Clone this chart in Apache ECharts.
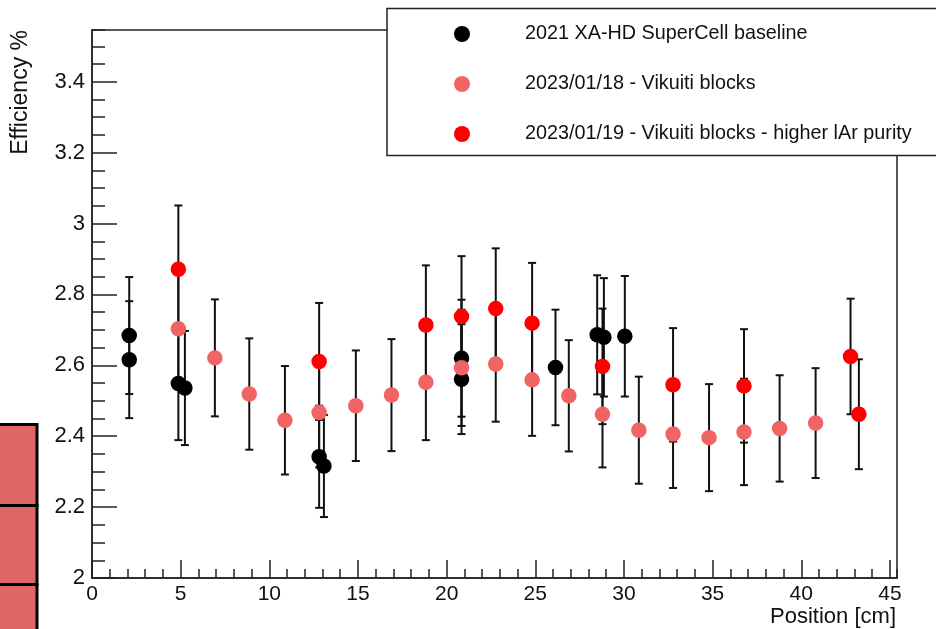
<!DOCTYPE html>
<html>
<head>
<meta charset="utf-8">
<script src="https://cdn.jsdelivr.net/npm/echarts@6/dist/echarts.min.js"></script>
<style>
  html, body { margin: 0; padding: 0; background: #fff; }
  #chart { width: 936px; height: 629px; }
</style>
</head>
<body>
<div id="chart"></div>
<script>
// ---- Data ----
const seriesNames = [
  '2021 XA-HD SuperCell baseline',
  '2023/01/18 - Vikuiti blocks',
  '2023/01/19 - Vikuiti blocks - higher lAr purity'
];
const legendLabels = [
  '2021 XA-HD SuperCell baseline',
  '2023/01/18 - Vikuiti blocks',
  '2023/01/19 - Vikuiti blocks - higher lAr purity'
];

const baselineX   = [2.1, 2.1, 4.87, 5.24, 12.81, 13.08, 20.84, 20.84, 26.14, 28.49, 28.87, 30.05];
const baselineY   = [2.684, 2.616, 2.549, 2.536, 2.342, 2.316, 2.620, 2.561, 2.594, 2.686, 2.679, 2.682];
const baselineErr = [0.165, 0.165, 0.160, 0.161, 0.144, 0.144, 0.165, 0.155, 0.163, 0.168, 0.167, 0.170];

const jan18X   = [4.87, 6.93, 8.87, 10.88, 12.81, 14.88, 16.89, 18.83, 20.84, 22.77, 24.82, 26.89, 28.79, 30.84, 32.77, 34.8, 36.77, 38.78, 40.81];
const jan18Y   = [2.703, 2.621, 2.519, 2.445, 2.467, 2.486, 2.516, 2.552, 2.593, 2.604, 2.559, 2.514, 2.462, 2.417, 2.406, 2.396, 2.412, 2.422, 2.437];
const jan18Err = [0.165, 0.165, 0.157, 0.153, 0.155, 0.156, 0.158, 0.163, 0.164, 0.163, 0.158, 0.157, 0.150, 0.151, 0.152, 0.151, 0.150, 0.150, 0.155];

const jan19X   = [4.87, 12.81, 18.83, 20.84, 22.77, 24.82, 28.79, 32.77, 36.77, 42.78, 43.25];
const jan19Y   = [2.871, 2.611, 2.714, 2.738, 2.760, 2.719, 2.597, 2.545, 2.542, 2.625, 2.462];
const jan19Err = [0.180, 0.165, 0.168, 0.170, 0.170, 0.170, 0.163, 0.160, 0.160, 0.163, 0.155];

const xTickLabels = ['0', '5', '10', '15', '20', '25', '30', '35', '40', '45'];
const yTickLabels = ['2', '2.2', '2.4', '2.6', '2.8', '3', '3.2', '3.4'];

const xAxisTitle = 'Position [cm]';
const yAxisTitle = 'Efficiency %';

// ---- Styling ----
const colors = ['#000000', '#f06464', '#ff0000'];
const FONT = '"Liberation Sans", Arial, Helvetica, sans-serif';
const X_MIN = 0, X_MAX = 45.4, Y_MIN = 2, Y_MAX = 3.546;

function zip(xs, ys, es) { return xs.map((x, i) => [x, ys[i], es[i]]); }
const datasets = [
  zip(baselineX, baselineY, baselineErr),
  zip(jan18X, jan18Y, jan18Err),
  zip(jan19X, jan19Y, jan19Err)
];

function errRender(params, api) {
  const x = api.value(0), y = api.value(1), e = api.value(2);
  const top = api.coord([x, y + e]);
  const bot = api.coord([x, y - e]);
  const cw = 4;
  const st = { stroke: '#111', lineWidth: 2 };
  return {
    type: 'group',
    children: [
      { type: 'line', shape: { x1: top[0], y1: top[1], x2: bot[0], y2: bot[1] }, style: st },
      { type: 'line', shape: { x1: top[0] - cw, y1: top[1], x2: top[0] + cw, y2: top[1] }, style: st },
      { type: 'line', shape: { x1: bot[0] - cw, y1: bot[1], x2: bot[0] + cw, y2: bot[1] }, style: st }
    ]
  };
}

const series = [];
datasets.forEach((d, i) => {
  series.push({
    type: 'custom',
    name: 'err' + i,
    renderItem: errRender,
    data: d,
    encode: { x: 0, y: 1 },
    silent: true,
    clip: false
  });
  series.push({
    type: 'scatter',
    name: seriesNames[i],
    data: d.map(p => [p[0], p[1]]),
    symbol: 'circle',
    symbolSize: 15.5,
    itemStyle: { color: colors[i], opacity: 1 }
  });
});

const chart = echarts.init(document.getElementById('chart'), null, { renderer: 'canvas' });
chart.setOption({
  animation: false,
  backgroundColor: '#ffffff',
  textStyle: { fontFamily: FONT },
  grid: {
    left: 92, right: 39, top: 30, bottom: 51,
    show: true, borderColor: '#222', borderWidth: 1.5, backgroundColor: 'transparent'
  },
  xAxis: [
    {
      type: 'value', min: X_MIN, max: X_MAX, interval: 5,
      axisLine: { show: true, lineStyle: { color: '#222', width: 1.5 } },
      axisTick: { show: true, inside: true, length: 18, lineStyle: { color: '#222', width: 1.5 } },
      axisLabel: {
        show: true, margin: 6, fontSize: 21, color: '#111', fontFamily: FONT,
        showMaxLabel: false,
        formatter: v => { const s = String(Math.round(v * 100) / 100); return xTickLabels.includes(s) ? s : ''; }
      },
      splitLine: { show: false }
    },
    {
      type: 'value', min: X_MIN, max: X_MAX, interval: 1, position: 'bottom',
      axisLine: { show: false },
      axisTick: { show: true, inside: true, length: 9, lineStyle: { color: '#222', width: 1.5 } },
      axisLabel: { show: false },
      splitLine: { show: false }
    }
  ],
  yAxis: [
    {
      type: 'value', min: Y_MIN, max: Y_MAX, interval: 0.2, position: 'left',
      axisLine: { show: true, lineStyle: { color: '#222', width: 1.5 } },
      axisTick: { show: true, inside: true, length: 25, lineStyle: { color: '#222', width: 1.5 } },
      axisLabel: {
        show: true, margin: 7, fontSize: 22, color: '#111', fontFamily: FONT,
        showMaxLabel: false,
        formatter: v => { const s = String(Math.round(v * 100) / 100); return yTickLabels.includes(s) ? s : ''; }
      },
      splitLine: { show: false }
    },
    {
      type: 'value', min: Y_MIN, max: Y_MAX, interval: 0.05, position: 'left',
      axisLine: { show: false },
      axisTick: { show: true, inside: true, length: 13, lineStyle: { color: '#222', width: 1.5 } },
      axisLabel: { show: false },
      splitLine: { show: false }
    }
  ],
  legend: {
    orient: 'vertical',
    left: 449, top: 19,
    itemWidth: 16, itemHeight: 16, itemGap: 30,
    icon: 'circle',
    z: 20,
    data: seriesNames.map((n, i) => ({ name: n, itemStyle: { color: colors[i] } })),
    formatter: name => legendLabels[seriesNames.indexOf(name)],
    textStyle: { fontSize: 19.8, lineHeight: 20, color: '#111', fontFamily: FONT, padding: [0, 0, 0, 50] },
    selectedMode: false
  },
  graphic: [
    // legend frame
    { type: 'rect', z: 10, shape: { x: 387, y: 8.5, width: 600, height: 147 },
      style: { fill: '#ffffff', stroke: '#222', lineWidth: 1.5 } },
    // axis titles
    { type: 'text', z: 10, x: 896, y: 617, style: { text: xAxisTitle, font: '22px ' + FONT, fill: '#111', textAlign: 'right', textVerticalAlign: 'middle' } },
    { type: 'text', z: 10, x: 21, y: 30, rotation: Math.PI / 2, style: { text: yAxisTitle, font: '23px ' + FONT, fill: '#111', textAlign: 'right', textVerticalAlign: 'middle' } },
    // overlapping red panels at the lower left edge
    { type: 'rect', z: 10, shape: { x: -10, y: 424.5, width: 47, height: 81 }, style: { fill: '#e06666', stroke: '#000', lineWidth: 3 } },
    { type: 'rect', z: 10, shape: { x: -10, y: 505.5, width: 47, height: 79 }, style: { fill: '#e06666', stroke: '#000', lineWidth: 3 } },
    { type: 'rect', z: 10, shape: { x: -10, y: 584.5, width: 47, height: 60 }, style: { fill: '#e06666', stroke: '#000', lineWidth: 3 } }
  ],
  series: series
});
</script>
</body>
</html>
